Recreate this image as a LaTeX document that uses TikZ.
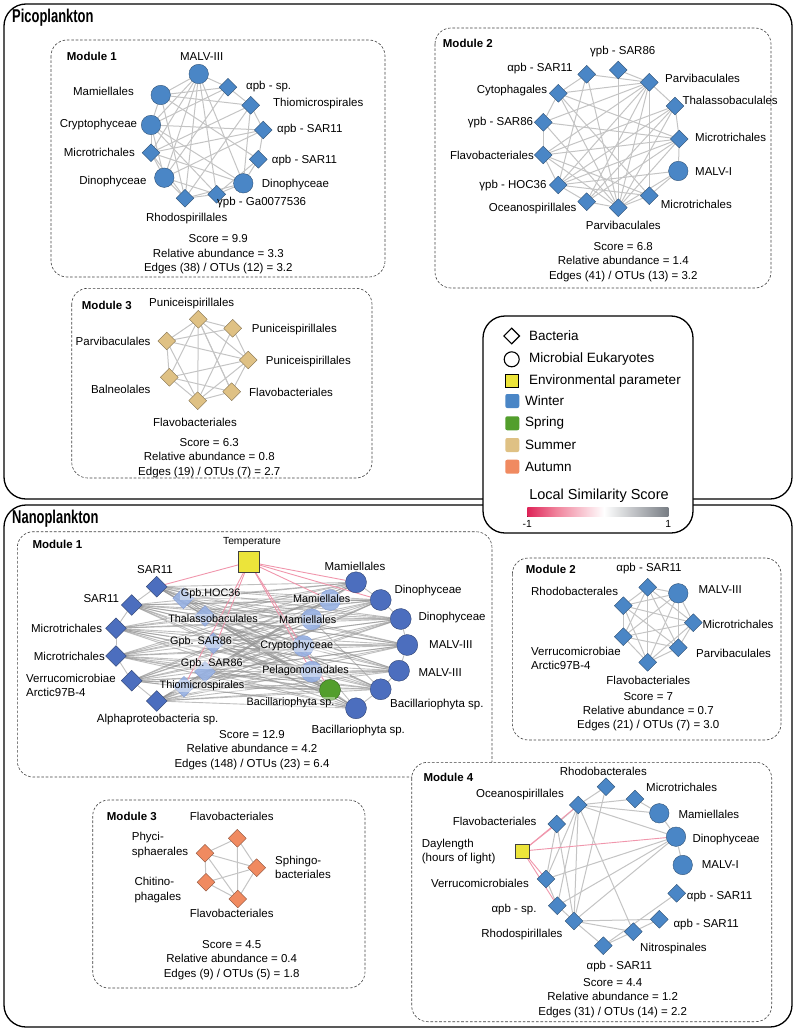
\documentclass[tikz,border=0pt]{standalone}
\usepackage{fontspec}
\setmainfont{Liberation Sans}
\newfontfamily\titlefont[FakeStretch=0.7]{Liberation Sans}
\usetikzlibrary{shapes.geometric}
\definecolor{pblue}{RGB}{74,134,198}
\definecolor{nblue}{RGB}{76,110,190}
\definecolor{nlight}{RGB}{150,176,226}
\definecolor{sgreen}{RGB}{82,158,44}
\definecolor{stan}{RGB}{223,193,132}
\definecolor{sorange}{RGB}{240,138,96}
\definecolor{envyellow}{RGB}{236,228,58}
\definecolor{egray}{RGB}{196,196,196}
\definecolor{epink}{RGB}{240,150,172}
\definecolor{lsred}{RGB}{222,36,88}
\definecolor{lspink}{RGB}{240,130,155}
\definecolor{lsgray}{RGB}{120,125,132}
\newcommand\mylbl{\fontsize{11.5}{14.2}\selectfont}
\newcommand\mylblb{\fontsize{10.8}{12.5}\selectfont}
\newcommand\mysmall{\fontsize{10.3}{12}\selectfont}
\newcommand\mylgl{\fontsize{13.5}{16}\selectfont}
\pgfdeclarelayer{back}
\pgfdeclarelayer{mid}
\pgfsetlayers{back,mid,main}
\begin{document}
\begin{tikzpicture}[x=1pt,y=-1pt,
  bact/.style={diamond, aspect=1, draw=#1!55!black, line width=0.35pt, fill=#1, inner sep=0pt, minimum size=18pt},
  euk/.style={circle, draw=#1!55!black, line width=0.35pt, fill=#1, inner sep=0pt, minimum size=19.5pt},
  nbact/.style={bact=#1, minimum size=21pt},
  neuk/.style={euk=#1, minimum size=21pt},
  lbact/.style={diamond, aspect=1, draw=nblue!70, line width=0.3pt, fill=nlight, fill opacity=0.9, inner sep=0pt, minimum size=21pt},
  leuk/.style={circle, draw=nblue!70, line width=0.3pt, fill=nlight, fill opacity=0.9, inner sep=0pt, minimum size=21pt},
  env/.style={rectangle, draw=black!75, line width=0.5pt, fill=envyellow, inner sep=0pt, minimum size=#1},
  lbl/.style={font=\mylbl, inner sep=0pt},
  ilbl/.style={font=\mylblb, inner sep=0.8pt, fill=white, fill opacity=0.4, text opacity=1},
  stat/.style={font=\mylbl, inner sep=0pt, align=center},
  lgl/.style={font=\mylgl, inner sep=0pt, anchor=west},
  swatch/.style={rectangle, rounded corners=2pt, fill=#1, draw=none, minimum size=14pt, inner sep=0pt},
  pedge/.style={draw=egray, line width=1pt},
  nedge/.style={draw=black!42, line width=0.9pt, opacity=0.6},
  kedge/.style={draw=epink, line width=0.9pt},
  modbox/.style={draw=black!75, line width=0.6pt, dash pattern=on 2.6pt off 1.8pt, rounded corners=16pt},
  outerbox/.style={draw=black, line width=1.3pt, rounded corners=22pt},
  legbox/.style={draw=black, line width=1.3pt, rounded corners=22pt, fill=white},
  ttl/.style={font=\titlefont\bfseries\fontsize{18.5}{21}\selectfont, inner sep=0pt, anchor=west},
  modt/.style={font=\bfseries\fontsize{11.5}{13}\selectfont, inner sep=0pt, anchor=west}
]
\useasboundingbox (0,0) rectangle (796,1030);

\begin{pgfonlayer}{back}
\draw[outerbox] (4,4) rectangle (792,499);
\draw[outerbox] (4,505) rectangle (792,1027);
\draw[modbox] (51,40) rectangle (385,277);
\draw[modbox] (435,28) rectangle (771,288);
\draw[modbox] (71.7,288.3) rectangle (372,478);
\draw[modbox] (17.3,531.7) rectangle (492,777);
\draw[modbox] (512.3,558) rectangle (781,740);
\draw[modbox] (92.7,800) rectangle (365,988);
\draw[modbox, fill=white] (411.7,762.3) rectangle (771.7,1021.7);
\draw[legbox] (483,316) rectangle (693,533);
\end{pgfonlayer}

\node[ttl] (pico) at (12,18) {Picoplankton};
\node[ttl] (nano) at (12,519) {Nanoplankton};

% ---------- Picoplankton Module 1
\node[modt] (pm1) at (66.7,56.7) {Module 1};
\node[euk=pblue] (a1) at (198.7,74) {};
\node[bact=pblue] (a2) at (228,87.3) {};
\node[bact=pblue] (a3) at (250.7,105.3) {};
\node[bact=pblue] (a4) at (263.3,130) {};
\node[bact=pblue] (a5) at (258.3,159.3) {};
\node[euk=pblue] (a6) at (243.3,183.3) {};
\node[bact=pblue] (a7) at (216.7,194.3) {};
\node[bact=pblue] (a8) at (185,198.3) {};
\node[euk=pblue] (a9) at (164.3,177.7) {};
\node[bact=pblue] (a10) at (151,152.7) {};
\node[euk=pblue] (a11) at (151,125) {};
\node[euk=pblue] (a12) at (160.7,95) {};
\node[lbl] (a1t) at (201.7,56.7) {MALV-III};
\node[lbl,anchor=west] (a2t) at (246,87) {αpb - sp.};
\node[lbl,anchor=west] (a3t) at (273,103.3) {Thiomicrospirales};
\node[lbl,anchor=west] (a4t) at (277,130) {αpb - SAR11};
\node[lbl,anchor=west] (a5t) at (271.7,160.7) {αpb - SAR11};
\node[lbl,anchor=west] (a6t) at (261.7,185) {Dinophyceae};
\node[lbl,anchor=west] (a7t) at (217,203) {γpb - Ga0077536};
\node[lbl] (a8t) at (186.7,218.3) {Rhodospirillales};
\node[lbl,anchor=east] (a9t) at (146.7,181.7) {Dinophyceae};
\node[lbl,anchor=east] (a10t) at (135,152.7) {Microtrichales};
\node[lbl,anchor=east] (a11t) at (137.3,125) {Cryptophyceae};
\node[lbl,anchor=east] (a12t) at (134,91) {Mamiellales};
\node[stat] (a0s) at (218.3,254.3) {Score = 9.9\\Relative abundance = 3.3\\Edges (38) / OTUs (12) = 3.2};

% ---------- Picoplankton Module 2
\node[modt] (pm2) at (442.7,43.3) {Module 2};
\node[bact=pblue] (b1) at (618.3,70) {};
\node[bact=pblue] (b2) at (586.7,74.3) {};
\node[bact=pblue] (b3) at (649.3,82.3) {};
\node[bact=pblue] (b4) at (558.3,93.3) {};
\node[bact=pblue] (b5) at (675,106) {};
\node[bact=pblue] (b6) at (543.3,122.3) {};
\node[bact=pblue] (b7) at (679.3,139) {};
\node[bact=pblue] (b8) at (543.3,155) {};
\node[euk=pblue] (b9) at (678.3,171) {};
\node[bact=pblue] (b10) at (558.3,185) {};
\node[bact=pblue] (b11) at (649.3,195.7) {};
\node[bact=pblue] (b12) at (586.7,201.7) {};
\node[bact=pblue] (b13) at (618.3,207.7) {};
\node[lbl] (b1t) at (622.7,51.7) {γpb - SAR86};
\node[lbl,anchor=east] (b2t) at (572.7,68.3) {αpb - SAR11};
\node[lbl,anchor=west] (b3t) at (665,78.3) {Parvibaculales};
\node[lbl,anchor=east] (b4t) at (547.3,91) {Cytophagales};
\node[lbl,anchor=west] (b5t) at (682.3,100) {Thalassobaculales};
\node[lbl,anchor=east] (b6t) at (533.3,122.3) {γpb - SAR86};
\node[lbl,anchor=west] (b7t) at (695,137.7) {Microtrichales};
\node[lbl,anchor=east] (b8t) at (534,155) {Flavobacteriales};
\node[lbl,anchor=west] (b9t) at (695,171.7) {MALV-I};
\node[lbl,anchor=east] (b10t) at (546.7,186) {γpb - HOC36};
\node[lbl,anchor=west] (b11t) at (660.7,204) {Microtrichales};
\node[lbl,anchor=east] (b12t) at (576.7,208.3) {Oceanospirillales};
\node[lbl] (b13t) at (623.3,225) {Parvibaculales};
\node[stat] (b0s) at (623.3,262) {Score = 6.8\\Relative abundance = 1.4\\Edges (41) / OTUs (13) = 3.2};

% ---------- Picoplankton Module 3
\node[modt] (pm3) at (81.7,305) {Module 3};
\node[bact=stan] (c1) at (198.3,319.3) {};
\node[bact=stan] (c2) at (232.7,328.3) {};
\node[bact=stan] (c3) at (166.7,341) {};
\node[bact=stan] (c4) at (248.3,360) {};
\node[bact=stan] (c5) at (169.3,377.3) {};
\node[bact=stan] (c6) at (231.7,391.7) {};
\node[bact=stan] (c7) at (197.7,400.7) {};
\node[lbl] (c1t) at (191.7,303.3) {Puniceispirillales};
\node[lbl,anchor=west] (c2t) at (251.7,330) {Puniceispirillales};
\node[lbl,anchor=east] (c3t) at (150.7,341) {Parvibaculales};
\node[lbl,anchor=west] (c4t) at (265.7,361.7) {Puniceispirillales};
\node[lbl,anchor=east] (c5t) at (150.7,389) {Balneolales};
\node[lbl,anchor=west] (c6t) at (249,392.7) {Flavobacteriales};
\node[lbl] (c7t) at (195,422.7) {Flavobacteriales};
\node[stat] (c0s) at (209.3,458) {Score = 6.3\\Relative abundance = 0.8\\Edges (19) / OTUs (7) = 2.7};

% ---------- Legend
\node[diamond, aspect=1, draw=black, line width=1.1pt, fill=white, minimum size=16pt, inner sep=0pt] (lg1) at (511.7,336) {};
\node[lgl] (lg1t) at (529,336) {Bacteria};
\node[circle, draw=black, line width=1.1pt, fill=white, minimum size=15pt, inner sep=0pt] (lg2) at (511.7,359.3) {};
\node[lgl] (lg2t) at (529,359.3) {Microbial Eukaryotes};
\node[env=13pt, draw=black, line width=0.9pt] (lg3) at (511.7,381) {};
\node[lgl] (lg3t) at (529,381) {Environmental parameter};
\node[swatch=pblue] (lg4) at (512.3,401) {};
\node[lgl] (lg4t) at (525,401) {Winter};
\node[swatch=sgreen] (lg5) at (512.3,423.3) {};
\node[lgl] (lg5t) at (525,423.3) {Spring};
\node[swatch=stan] (lg6) at (512.3,445) {};
\node[lgl] (lg6t) at (525,445) {Summer};
\node[swatch=sorange] (lg7) at (512.3,466.7) {};
\node[lgl] (lg7t) at (525,466.7) {Autumn};
\node[font=\fontsize{14.5}{16}\selectfont, inner sep=0pt] (lg8) at (599,496) {Local Similarity Score};
\fill[left color=lsred, right color=lspink] (527.3,507.7) rectangle (556,516.7);
\fill[left color=lspink, right color=white] (556,507.7) rectangle (604,516.7);
\fill[left color=white, right color=lsgray] (604,507.7) rectangle (668.3,516.7);
\node[font=\mysmall, inner sep=0pt] (lg9) at (527.3,524) {-1};
\node[font=\mysmall, inner sep=0pt] (lg10) at (668.3,524) {1};

% ---------- Nanoplankton Module 1
\node[modt] (nm1) at (32.3,544) {Module 1};
\node[env=21pt] (T) at (249,562) {};
\node[font=\mysmall, inner sep=0pt] (Tt) at (252,541.7) {Temperature};
\node[nbact=nblue] (e1) at (156.7,586.7) {};
\node[nbact=nblue] (e2) at (131.7,605) {};
\node[nbact=nblue] (e3) at (116,628.3) {};
\node[nbact=nblue] (e4) at (116,656) {};
\node[nbact=nblue] (e5) at (131.7,680.7) {};
\node[nbact=nblue] (e6) at (156.7,701) {};
\node[lbact] (e7) at (183.3,598.3) {};
\node[lbact] (e8) at (205,616) {};
\node[lbact] (e9) at (213.3,643.3) {};
\node[lbact] (e10) at (205,671.7) {};
\node[lbact] (e11) at (184,686.7) {};
\node[neuk=nblue] (f1) at (356,582.3) {};
\node[neuk=nblue] (f2) at (380.7,600) {};
\node[neuk=nblue] (f3) at (400.7,619) {};
\node[neuk=nblue] (f4) at (407.3,645) {};
\node[neuk=nblue] (f5) at (399,670.7) {};
\node[neuk=nblue] (f6) at (380.7,689.3) {};
\node[neuk=nblue] (f7) at (356,708.3) {};
\node[neuk=sgreen] (f8) at (330,690) {};
\node[leuk] (f9) at (330,600) {};
\node[leuk] (f10) at (311.7,619.3) {};
\node[leuk] (f11) at (303.3,646) {};
\node[leuk] (f12) at (311.7,671.7) {};
\node[lbl] (e1t) at (155,570) {SAR11};
\node[lbl,anchor=east] (e2t) at (119.3,599) {SAR11};
\node[lbl,anchor=east] (e3t) at (102.3,628.3) {Microtrichales};
\node[lbl,anchor=east] (e4t) at (105,656) {Microtrichales};
\node[lbl,anchor=west,align=left] (e5t) at (26,685.5) {Verrucomicrobiae\\Arctic97B-4};
\node[lbl] (e6t) at (157.7,720) {Alphaproteobacteria sp.};
\node[ilbl] (e7t) at (210.7,594) {Gpb.HOC36};
\node[ilbl] (e8t) at (213,618.7) {Thalassobaculales};
\node[ilbl] (e9t) at (201,642) {Gpb. SAR86};
\node[ilbl] (e10t) at (211.7,663.3) {Gpb. SAR86};
\node[ilbl] (e11t) at (202,685.7) {Thiomicrospirales};
\node[lbl] (f1t) at (355,566.7) {Mamiellales};
\node[lbl,anchor=west] (f2t) at (394.3,591) {Dinophyceae};
\node[lbl,anchor=west] (f3t) at (418.3,617.3) {Dinophyceae};
\node[lbl,anchor=west] (f4t) at (429,645) {MALV-III};
\node[lbl,anchor=west] (f5t) at (418.3,672.7) {MALV-III};
\node[lbl,anchor=west] (f6t) at (390,705) {Bacillariophyta sp.};
\node[lbl] (f7t) at (358.3,730.7) {Bacillariophyta sp.};
\node[ilbl] (f8t) at (290.5,703) {Bacillariophyta sp.};
\node[ilbl] (f9t) at (321.7,598.3) {Mamiellales};
\node[ilbl] (f10t) at (307.7,620) {Mamiellales};
\node[ilbl] (f11t) at (296.7,646) {Cryptophyceae};
\node[ilbl] (f12t) at (305.5,671) {Pelagomonadales};
\node[stat] (e0s) at (252,750) {Score = 12.9\\Relative abundance = 4.2\\Edges (148) / OTUs (23) = 6.4};

% ---------- Nanoplankton Module 2
\node[modt] (nm2) at (525.7,569) {Module 2};
\node[bact=pblue] (g1) at (647.7,587.3) {};
\node[euk=pblue] (g2) at (678.3,593.3) {};
\node[bact=pblue] (g3) at (623.3,605.7) {};
\node[bact=pblue] (g4) at (693.3,622.7) {};
\node[bact=pblue] (g5) at (623.3,636.7) {};
\node[bact=pblue] (g6) at (678.3,647.7) {};
\node[bact=pblue] (g7) at (647.7,662.3) {};
\node[lbl] (g1t) at (649,569) {αpb - SAR11};
\node[lbl,anchor=west] (g2t) at (698.3,590) {MALV-III};
\node[lbl,anchor=east] (g3t) at (618.3,591.7) {Rhodobacterales};
\node[lbl,anchor=west] (g4t) at (702.3,624.3) {Microtrichales};
\node[lbl,anchor=west,align=left] (g5t) at (531,658) {Verrucomicrobiae\\Arctic97B-4};
\node[lbl,anchor=west] (g6t) at (696,653.3) {Parvibaculales};
\node[lbl] (g7t) at (648.3,680) {Flavobacteriales};
\node[stat] (g0s) at (648.3,711.7) {Score = 7\\Relative abundance = 0.7\\Edges (21) / OTUs (7) = 3.0};

% ---------- Nanoplankton Module 3
\node[modt] (nm3) at (106.7,816.7) {Module 3};
\node[bact=sorange] (h1) at (237.3,838.3) {};
\node[bact=sorange] (h2) at (205,853.3) {};
\node[bact=sorange] (h3) at (256.7,867.7) {};
\node[bact=sorange] (h4) at (206,882.3) {};
\node[bact=sorange] (h5) at (237.7,899) {};
\node[lbl] (h1t) at (231.7,816.7) {Flavobacteriales};
\node[lbl,anchor=west,align=left] (h2t) at (131.7,845) {Phyci-\\sphaerales};
\node[lbl,anchor=west,align=left] (h3t) at (275,867.5) {Sphingo-\\bacteriales};
\node[lbl,anchor=west,align=left] (h4t) at (134.3,890) {Chitino-\\phagales};
\node[lbl] (h5t) at (231.7,913.3) {Flavobacteriales};
\node[stat] (h0s) at (231.7,960) {Score = 4.5\\Relative abundance = 0.4\\Edges (9) / OTUs (5) = 1.8};

% ---------- Nanoplankton Module 4
\node[modt] (nm4) at (423.3,777.7) {Module 4};
\node[bact=pblue] (d1) at (606,786.7) {};
\node[bact=pblue] (d2) at (635,799) {};
\node[bact=pblue] (d3) at (578.3,805) {};
\node[euk=pblue] (d4) at (659.3,813.3) {};
\node[bact=pblue] (d5) at (556.7,824) {};
\node[euk=pblue] (d6) at (676,836.7) {};
\node[env=14pt] (d7) at (522.7,851) {};
\node[euk=pblue] (d8) at (682.7,865) {};
\node[bact=pblue] (d9) at (546,879) {};
\node[bact=pblue] (d10) at (676.7,893.3) {};
\node[bact=pblue] (d11) at (557.3,905.7) {};
\node[bact=pblue] (d12) at (659.3,919.3) {};
\node[bact=pblue] (d13) at (574,921) {};
\node[bact=pblue] (d14) at (633.3,931.7) {};
\node[bact=pblue] (d15) at (603.3,945.7) {};
\node[lbl] (d1t) at (603.3,771) {Rhodobacterales};
\node[lbl,anchor=west] (d2t) at (646,787.3) {Microtrichales};
\node[lbl,anchor=east] (d3t) at (564,795) {Oceanospirillales};
\node[lbl,anchor=west] (d4t) at (678.3,814.3) {Mamiellales};
\node[lbl,anchor=east] (d5t) at (536.7,821) {Flavobacteriales};
\node[lbl,anchor=west] (d6t) at (692.3,839.3) {Dinophyceae};
\node[lbl,anchor=west,align=left] (d7t) at (421.7,851.3) {Daylength\\(hours of light)};
\node[lbl,anchor=west] (d8t) at (701.7,865) {MALV-I};
\node[lbl,anchor=east] (d9t) at (529,883.3) {Verrucomicrobiales};
\node[lbl,anchor=west] (d10t) at (686.7,896.7) {αpb - SAR11};
\node[lbl,anchor=east] (d11t) at (536.7,910) {αpb - sp.};
\node[lbl,anchor=west] (d12t) at (673.3,925) {αpb - SAR11};
\node[lbl,anchor=east] (d13t) at (562.7,935) {Rhodospirillales};
\node[lbl,anchor=west] (d14t) at (640,949) {Nitrospinales};
\node[lbl] (d15t) at (619.3,966.7) {αpb - SAR11};
\node[stat] (d0s) at (612.7,998) {Score = 4.4\\Relative abundance = 1.2\\Edges (31) / OTUs (14) = 2.2};

% ---------- Edges
\begin{pgfonlayer}{mid}
\foreach \u/\v in {a1/a2,a2/a3,a3/a4,a4/a5,a5/a6,a6/a7,a7/a8,a8/a9,a9/a10,a10/a11,a11/a12,a12/a1,
  a1/a9,a1/a8,a1/a7,a1/a6,a1/a11,a1/a10,a12/a2,a12/a3,a12/a5,a12/a8,a11/a2,a11/a4,a11/a6,a11/a7,
  a10/a3,a10/a6,a10/a8,a9/a4,a9/a7,a9/a11,a8/a3,a8/a6,a7/a5,a6/a3,a2/a9,a4/a10}
  \draw[pedge] (\u) -- (\v);
\foreach \u/\v in {b2/b4,b4/b6,b6/b8,b8/b10,b10/b12,b12/b13,b13/b11,b11/b9,b9/b7,b7/b5,b5/b3,b3/b1,
  b1/b13,b2/b3,b3/b4,b3/b6,b3/b8,b3/b10,b3/b12,b3/b13,b4/b11,b4/b13,b4/b7,b2/b10,b2/b13,
  b5/b8,b5/b13,b5/b12,b5/b10,b6/b7,b6/b13,b7/b8,b7/b10,b7/b13,b7/b12,b8/b13,b8/b11,b9/b13,b9/b10,b10/b11,b11/b3}
  \draw[pedge] (\u) -- (\v);
\foreach \u/\v in {c1/c2,c1/c3,c1/c4,c1/c5,c1/c6,c1/c7,c2/c3,c2/c4,c2/c7,c3/c5,c3/c7,
  c4/c3,c4/c5,c4/c6,c4/c7,c5/c6,c5/c7,c6/c7,c6/c1}
  \draw[pedge] (\u) -- (\v);
\foreach \i in {1,...,6} \foreach \j in {1,...,12} \draw[nedge] (e\i) -- (f\j);
\foreach \i in {7,...,11} \foreach \j in {1,...,8} \draw[nedge] (e\i) -- (f\j);
\foreach \u/\v in {e1/e2,e2/e3,e3/e4,e4/e5,e5/e6,f1/f2,f2/f3,f3/f4,f4/f5,f5/f6,f6/f7,f7/f8,
  e1/e7,e2/e8,e3/e9,e4/e10,e5/e11,e6/e11,e1/e8,e6/e10,
  f9/f2,f10/f3,f11/f4,f12/f5,f9/f1,f12/f8,f10/f6,f11/f7}
  \draw[nedge] (\u) -- (\v);
\foreach \v in {e1,e11,e10,f1,f2,f9,f12,f8}
  \draw[kedge] (T) -- (\v);
\foreach \i in {1,...,6} {
  \pgfmathtruncatemacro\ni{\i+1}
  \foreach \j in {\ni,...,7} \draw[pedge] (g\i) -- (g\j);
}
\foreach \u/\v in {h1/h2,h1/h3,h1/h5,h2/h3,h2/h4,h2/h5,h3/h4,h3/h5,h4/h5}
  \draw[pedge] (\u) -- (\v);
\foreach \u/\v in {d3/d1,d3/d2,d3/d4,d3/d6,d3/d5,d3/d9,d3/d11,d3/d13,d3/d14,d1/d13,d2/d4,d4/d6,
  d6/d8,d6/d9,d6/d11,d6/d13,d5/d9,d5/d13,d9/d11,d11/d13,d13/d12,d13/d15,d13/d14,d15/d14,d15/d10,d14/d12}
  \draw[pedge] (\u) -- (\v);
\foreach \v in {d3,d5,d6,d9,d11}
  \draw[kedge] (d7) -- (\v);
\end{pgfonlayer}
\end{tikzpicture}
\end{document}
